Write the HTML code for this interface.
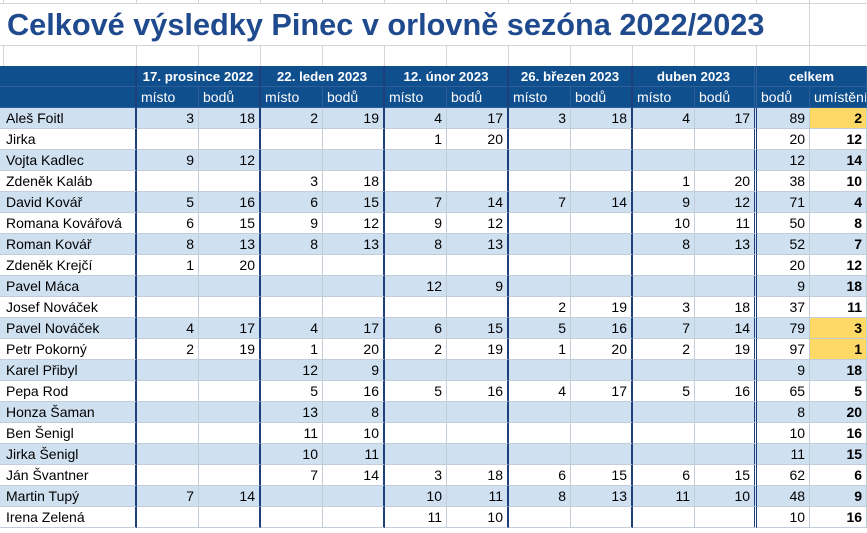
<!DOCTYPE html>
<html><head><meta charset="utf-8"><style>
body{margin:0;width:867px;height:533px;overflow:hidden;background:#fff;font-family:"Liberation Sans",Arial,sans-serif;position:relative}
.grid{position:absolute;left:0;top:0;width:867px;height:66px}
.h{position:absolute;left:0;width:867px;height:1px;background:#d4d4d4}
.v{position:absolute;width:1px;background:#d4d4d4}
.title{position:absolute;left:0;top:4px;width:809px;height:41px;background:#fff;color:#1f4b8e;font-weight:bold;font-size:30.7px;line-height:41px;padding-left:7px;box-sizing:border-box;white-space:nowrap}
table{position:absolute;left:0;top:66px;border-collapse:separate;border-spacing:0;table-layout:fixed;width:867px}
td{box-sizing:border-box;height:21px;padding:0 4px;font-size:14px;border-right:1px solid #c3cdd8;border-bottom:1px solid #c3cdd8;white-space:nowrap;overflow:hidden;text-align:right;color:#000}
tr.hd td{background:#0f4f8e;color:#fff;border-color:#2e5f98;text-align:left}
tr.g td{text-align:center;font-weight:bold;font-size:13.3px}
tr.b td{background:#cfe0f1}
td.n{text-align:left;padding-left:6px}
td.t{border-right:2px solid #1e3f7c}
td.d{border-right:3px double #1e3f7c}
td.u{font-weight:bold}
td.y{background:#ffd966 !important}
tr.hd td.t{border-right:2px solid #1e3f7c}
</style></head><body>
<div class="grid">
<div class="h" style="top:3px"></div><div class="h" style="top:45px"></div>
<div class="v" style="left:3px;top:0;height:66px"></div>
<div class="v" style="left:136px;top:0;height:66px"></div>
<div class="v" style="left:198px;top:0;height:66px"></div>
<div class="v" style="left:260px;top:0;height:66px"></div>
<div class="v" style="left:322px;top:0;height:66px"></div>
<div class="v" style="left:384px;top:0;height:66px"></div>
<div class="v" style="left:446px;top:0;height:66px"></div>
<div class="v" style="left:508px;top:0;height:66px"></div>
<div class="v" style="left:570px;top:0;height:66px"></div>
<div class="v" style="left:632px;top:0;height:66px"></div>
<div class="v" style="left:694px;top:0;height:66px"></div>
<div class="v" style="left:756px;top:0;height:66px"></div>
<div class="v" style="left:809px;top:0;height:66px"></div>
<div class="title">Celkové výsledky Pinec v orlovně sezóna 2022/2023</div>
</div>
<table>
<colgroup><col style="width:137px"><col style="width:62px"><col style="width:62px"><col style="width:62px"><col style="width:62px"><col style="width:62px"><col style="width:62px"><col style="width:62px"><col style="width:62px"><col style="width:62px"><col style="width:62px"><col style="width:53px"><col style="width:57px"></colgroup>
<tr class="hd g"><td class="t"></td><td colspan="2" class="t">17. prosince 2022</td><td colspan="2" class="t">22. leden 2023</td><td colspan="2" class="t">12. únor 2023</td><td colspan="2" class="t">26. březen 2023</td><td colspan="2" class="d">duben 2023</td><td colspan="2">celkem</td></tr>
<tr class="hd"><td class="t"></td><td>místo</td><td class="t">bodů</td><td>místo</td><td class="t">bodů</td><td>místo</td><td class="t">bodů</td><td>místo</td><td class="t">bodů</td><td>místo</td><td class="d">bodů</td><td>bodů</td><td>umístění</td></tr>
<tr class="b"><td class="n t">Aleš Foitl</td><td>3</td><td class="t">18</td><td>2</td><td class="t">19</td><td>4</td><td class="t">17</td><td>3</td><td class="t">18</td><td>4</td><td class="d">17</td><td>89</td><td class="u y">2</td></tr>
<tr><td class="n t">Jirka</td><td></td><td class="t"></td><td></td><td class="t"></td><td>1</td><td class="t">20</td><td></td><td class="t"></td><td></td><td class="d"></td><td>20</td><td class="u">12</td></tr>
<tr class="b"><td class="n t">Vojta Kadlec</td><td>9</td><td class="t">12</td><td></td><td class="t"></td><td></td><td class="t"></td><td></td><td class="t"></td><td></td><td class="d"></td><td>12</td><td class="u">14</td></tr>
<tr><td class="n t">Zdeněk Kaláb</td><td></td><td class="t"></td><td>3</td><td class="t">18</td><td></td><td class="t"></td><td></td><td class="t"></td><td>1</td><td class="d">20</td><td>38</td><td class="u">10</td></tr>
<tr class="b"><td class="n t">David Kovář</td><td>5</td><td class="t">16</td><td>6</td><td class="t">15</td><td>7</td><td class="t">14</td><td>7</td><td class="t">14</td><td>9</td><td class="d">12</td><td>71</td><td class="u">4</td></tr>
<tr><td class="n t">Romana Kovářová</td><td>6</td><td class="t">15</td><td>9</td><td class="t">12</td><td>9</td><td class="t">12</td><td></td><td class="t"></td><td>10</td><td class="d">11</td><td>50</td><td class="u">8</td></tr>
<tr class="b"><td class="n t">Roman Kovář</td><td>8</td><td class="t">13</td><td>8</td><td class="t">13</td><td>8</td><td class="t">13</td><td></td><td class="t"></td><td>8</td><td class="d">13</td><td>52</td><td class="u">7</td></tr>
<tr><td class="n t">Zdeněk Krejčí</td><td>1</td><td class="t">20</td><td></td><td class="t"></td><td></td><td class="t"></td><td></td><td class="t"></td><td></td><td class="d"></td><td>20</td><td class="u">12</td></tr>
<tr class="b"><td class="n t">Pavel Máca</td><td></td><td class="t"></td><td></td><td class="t"></td><td>12</td><td class="t">9</td><td></td><td class="t"></td><td></td><td class="d"></td><td>9</td><td class="u">18</td></tr>
<tr><td class="n t">Josef Nováček</td><td></td><td class="t"></td><td></td><td class="t"></td><td></td><td class="t"></td><td>2</td><td class="t">19</td><td>3</td><td class="d">18</td><td>37</td><td class="u">11</td></tr>
<tr class="b"><td class="n t">Pavel Nováček</td><td>4</td><td class="t">17</td><td>4</td><td class="t">17</td><td>6</td><td class="t">15</td><td>5</td><td class="t">16</td><td>7</td><td class="d">14</td><td>79</td><td class="u y">3</td></tr>
<tr><td class="n t">Petr Pokorný</td><td>2</td><td class="t">19</td><td>1</td><td class="t">20</td><td>2</td><td class="t">19</td><td>1</td><td class="t">20</td><td>2</td><td class="d">19</td><td>97</td><td class="u y">1</td></tr>
<tr class="b"><td class="n t">Karel Přibyl</td><td></td><td class="t"></td><td>12</td><td class="t">9</td><td></td><td class="t"></td><td></td><td class="t"></td><td></td><td class="d"></td><td>9</td><td class="u">18</td></tr>
<tr><td class="n t">Pepa Rod</td><td></td><td class="t"></td><td>5</td><td class="t">16</td><td>5</td><td class="t">16</td><td>4</td><td class="t">17</td><td>5</td><td class="d">16</td><td>65</td><td class="u">5</td></tr>
<tr class="b"><td class="n t">Honza Šaman</td><td></td><td class="t"></td><td>13</td><td class="t">8</td><td></td><td class="t"></td><td></td><td class="t"></td><td></td><td class="d"></td><td>8</td><td class="u">20</td></tr>
<tr><td class="n t">Ben Šenigl</td><td></td><td class="t"></td><td>11</td><td class="t">10</td><td></td><td class="t"></td><td></td><td class="t"></td><td></td><td class="d"></td><td>10</td><td class="u">16</td></tr>
<tr class="b"><td class="n t">Jirka Šenigl</td><td></td><td class="t"></td><td>10</td><td class="t">11</td><td></td><td class="t"></td><td></td><td class="t"></td><td></td><td class="d"></td><td>11</td><td class="u">15</td></tr>
<tr><td class="n t">Ján Švantner</td><td></td><td class="t"></td><td>7</td><td class="t">14</td><td>3</td><td class="t">18</td><td>6</td><td class="t">15</td><td>6</td><td class="d">15</td><td>62</td><td class="u">6</td></tr>
<tr class="b"><td class="n t">Martin Tupý</td><td>7</td><td class="t">14</td><td></td><td class="t"></td><td>10</td><td class="t">11</td><td>8</td><td class="t">13</td><td>11</td><td class="d">10</td><td>48</td><td class="u">9</td></tr>
<tr><td class="n t">Irena Zelená</td><td></td><td class="t"></td><td></td><td class="t"></td><td>11</td><td class="t">10</td><td></td><td class="t"></td><td></td><td class="d"></td><td>10</td><td class="u">16</td></tr>
</table>
</body></html>
